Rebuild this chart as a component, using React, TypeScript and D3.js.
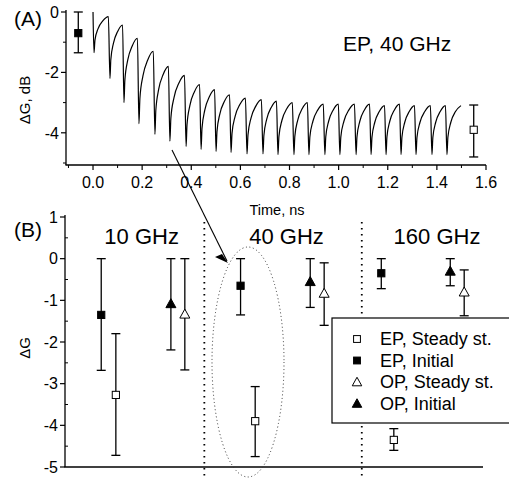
import React from "react";
import * as d3 from "d3";

// ---------- Panel A data ----------
const dipTimes = [0.004, 0.069, 0.126, 0.187, 0.252, 0.313, 0.379, 0.44, 0.501, 0.562, 0.627, 0.692, 0.753, 0.818, 0.879, 0.944, 1.005, 1.071, 1.132, 1.193, 1.254, 1.315, 1.38, 1.441];
const dipValues = [-1.35, -2.2, -3.0, -3.7, -4.05, -4.28, -4.45, -4.55, -4.62, -4.65, -4.7, -4.7, -4.72, -4.72, -4.72, -4.72, -4.72, -4.72, -4.72, -4.72, -4.72, -4.72, -4.72, -4.72];
const peakValues = [0, -0.15, -0.43, -0.87, -1.3, -1.8, -2.1, -2.4, -2.57, -2.74, -2.85, -2.9, -2.95, -3.0, -3.0, -3.05, -3.05, -3.05, -3.05, -3.1, -3.05, -3.1, -3.1, -3.1];
const traceStart = 0.0;
const traceEnd = 1.498;
const endValue = -3.1;
// recovery shape template: [fraction of period, fraction recovered]
const recoveryShape: [number, number][] = [[0, 0], [0.06, 0.35], [0.25, 0.66], [0.55, 0.88], [0.9, 1]];

const aMarkers = [
  { t: -0.06, v: -0.7, hi: 0, lo: -1.35, filled: true },
  { t: 1.55, v: -3.9, hi: -3.08, lo: -4.8, filled: false },
];
const aXTicks = [0, 0.2, 0.4, 0.6, 0.8, 1.0, 1.2, 1.4, 1.6];
const aXMinor = [-0.1, 0.1, 0.3, 0.5, 0.7, 0.9, 1.1, 1.3, 1.5];
const aYTicks = [0, -2, -4];
const aYMinor = [-1, -3, -5];

// ---------- Panel B data ----------
const groupLabels = ["10 GHz", "40 GHz", "160 GHz"];
const groupLabelX = [5.5, 15.9, 26.7];
const separatorsX = [10, 21.3];

const epSteadyX = [3.65, 13.65, 23.6];
const epSteadyV = [-3.27, -3.9, -4.35];
const epSteadyHi = [-1.8, -3.07, -4.08];
const epSteadyLo = [-4.72, -4.75, -4.6];

const epInitX = [2.6, 12.6, 22.7];
const epInitV = [-1.35, -0.65, -0.35];
const epInitHi = [0, 0, 0];
const epInitLo = [-2.68, -1.35, -0.72];

const opSteadyX = [8.6, 18.6, 28.65];
const opSteadyV = [-1.33, -0.83, -0.8];
const opSteadyHi = [0, -0.1, -0.27];
const opSteadyLo = [-2.67, -1.6, -1.37];

const opInitX = [7.6, 17.6, 27.65];
const opInitV = [-1.08, -0.55, -0.3];
const opInitHi = [0, 0, 0];
const opInitLo = [-2.19, -1.17, -0.65];

const bYTicks = [1, 0, -1, -2, -3, -4, -5];
const bYMinor = [0.5, -0.5, -1.5, -2.5, -3.5, -4.5];

const legendLabels = ["EP, Steady st.", "EP, Initial", "OP, Steady st.", "OP, Initial"];

const FONT = "Arial, 'Liberation Sans', Helvetica, sans-serif";

type Shape = "sq" | "tri";

function Marker({ x, y, shape, filled, s = 1 }: { x: number; y: number; shape: Shape; filled: boolean; s?: number }) {
  const fill = filled ? "#000" : "#fff";
  if (shape === "sq") {
    const h = 3.6 * s;
    return <rect x={x - h} y={y - h} width={2 * h} height={2 * h} fill={fill} stroke="#000" strokeWidth={1} />;
  }
  const w = 5 * s;
  const pts = `${x},${y - 5 * s} ${x - w},${y + 4 * s} ${x + w},${y + 4 * s}`;
  return <polygon points={pts} fill={fill} stroke="#000" strokeWidth={1} />;
}

function ErrBar({ x, y1, y2 }: { x: number; y1: number; y2: number }) {
  const c = 4.5;
  return (
    <g stroke="#000" strokeWidth={1.3}>
      <line x1={x} x2={x} y1={y1} y2={y2} />
      <line x1={x - c} x2={x + c} y1={y1} y2={y1} />
      <line x1={x - c} x2={x + c} y1={y2} y2={y2} />
    </g>
  );
}

export default function App() {
  // Panel A scales
  const xA = d3.scaleLinear().domain([-0.11, 1.6]).range([66, 486]);
  const yA = d3.scaleLinear().domain([-5, 0]).range([163, 12]);
  const aAxisY = 165;

  // trace points
  const pts: [number, number][] = [];
  pts.push([traceStart, peakValues[0]]);
  for (let k = 0; k < dipTimes.length; k++) {
    const t0 = dipTimes[k];
    const t1 = k + 1 < dipTimes.length ? dipTimes[k + 1] : traceEnd;
    const lo = dipValues[k];
    const hi = k + 1 < peakValues.length ? peakValues[k + 1] : endValue;
    const last = k + 1 >= dipTimes.length;
    for (const [f, r] of recoveryShape) {
      const ff = last ? Math.min(f / 0.9, 1) : f;
      pts.push([t0 + ff * (t1 - t0), lo + r * (hi - lo)]);
    }
  }
  const line = d3
    .line<[number, number]>()
    .x((d) => xA(d[0]))
    .y((d) => yA(d[1]))
    .curve(d3.curveMonotoneX);

  // Panel B scales
  const xB = d3.scaleLinear().domain([0, 30]).range([65, 483]);
  const yB = d3.scaleLinear().domain([-5, 1]).range([467, 217]);

  const series = [
    { X: epSteadyX, V: epSteadyV, H: epSteadyHi, L: epSteadyLo, shape: "sq" as Shape, filled: false },
    { X: epInitX, V: epInitV, H: epInitHi, L: epInitLo, shape: "sq" as Shape, filled: true },
    { X: opSteadyX, V: opSteadyV, H: opSteadyHi, L: opSteadyLo, shape: "tri" as Shape, filled: false },
    { X: opInitX, V: opInitV, H: opInitHi, L: opInitLo, shape: "tri" as Shape, filled: true },
  ];

  return (
    <svg
      width={509}
      height={478}
      style={{ position: "absolute", left: 0, top: 0, background: "#fff" }}
      fontFamily={FONT}
    >
      <rect width={509} height={478} fill="#fff" />
      {/* ---------- Panel A ---------- */}
      <g>
        <line x1={66} x2={66} y1={10} y2={aAxisY} stroke="#000" strokeWidth={1.3} />
        <line x1={65.4} x2={xA(1.6)} y1={aAxisY} y2={aAxisY} stroke="#000" strokeWidth={1.3} />
        {aYTicks.map((v) => (
          <g key={"ay" + v}>
            <line x1={61} x2={66} y1={yA(v)} y2={yA(v)} stroke="#000" strokeWidth={1.2} />
            <text x={59} y={yA(v)} dy="0.36em" textAnchor="end" fontSize={16}>
              {v === 0 ? "0" : `-${Math.abs(v)}`}
            </text>
          </g>
        ))}
        {aYMinor.map((v) => (
          <line key={"aym" + v} x1={63} x2={66} y1={yA(v)} y2={yA(v)} stroke="#000" strokeWidth={1} />
        ))}
        {aXTicks.map((t) => (
          <g key={"ax" + t}>
            <line x1={xA(t)} x2={xA(t)} y1={aAxisY} y2={aAxisY + 5} stroke="#000" strokeWidth={1.2} />
            <text x={xA(t)} y={aAxisY + 23} textAnchor="middle" fontSize={16}>
              {t.toFixed(1)}
            </text>
          </g>
        ))}
        {aXMinor.map((t) => (
          <line key={"axm" + t} x1={xA(t)} x2={xA(t)} y1={aAxisY} y2={aAxisY + 3} stroke="#000" strokeWidth={1} />
        ))}
        <text x={277} y={215} textAnchor="middle" fontSize={14.5}>
          Time, ns
        </text>
        <text transform="translate(30,100) rotate(-90)" textAnchor="middle" fontSize={15}>
          ΔG, dB
        </text>
        <text x={14} y={26} fontSize={21}>
          (A)
        </text>
        <text x={343} y={51} fontSize={21}>
          EP, 40 GHz
        </text>
        <path d={line(pts) || ""} fill="none" stroke="#000" strokeWidth={1.2} strokeLinejoin="round" />
        {aMarkers.map((m, i) => (
          <g key={"am" + i}>
            <ErrBar x={xA(m.t)} y1={yA(m.hi)} y2={yA(m.lo)} />
            <Marker x={xA(m.t)} y={yA(m.v)} shape="sq" filled={m.filled} />
          </g>
        ))}
      </g>

      {/* ---------- Panel B ---------- */}
      <g>
        <line x1={65} x2={65} y1={215} y2={467} stroke="#000" strokeWidth={1.3} />
        <line x1={64.4} x2={483} y1={467} y2={467} stroke="#000" strokeWidth={1.3} />
        {bYTicks.map((v) => (
          <g key={"by" + v}>
            <line x1={60} x2={65} y1={yB(v)} y2={yB(v)} stroke="#000" strokeWidth={1.2} />
            <text x={58} y={yB(v)} dy="0.36em" textAnchor="end" fontSize={16}>
              {v < 0 ? `-${Math.abs(v)}` : String(v)}
            </text>
          </g>
        ))}
        {bYMinor.map((v) => (
          <line key={"bym" + v} x1={65} x2={68} y1={yB(v)} y2={yB(v)} stroke="#000" strokeWidth={1} />
        ))}
        <text transform="translate(30,348) rotate(-90)" textAnchor="middle" fontSize={15}>
          ΔG
        </text>
        <text x={14} y={237} fontSize={21}>
          (B)
        </text>
        {groupLabels.map((g, i) => (
          <text key={g} x={xB(groupLabelX[i])} y={244} textAnchor="middle" fontSize={22}>
            {g}
          </text>
        ))}
        {separatorsX.map((s) => (
          <line
            key={"sep" + s}
            x1={xB(s)}
            x2={xB(s)}
            y1={222}
            y2={478}
            stroke="#000"
            strokeWidth={1.8}
            strokeDasharray="1.6,4.4"
          />
        ))}
        <ellipse cx={248} cy={362} rx={36} ry={115} fill="none" stroke="#333" strokeWidth={1} strokeDasharray="1,2.6" />
        <line x1={172} y1={150} x2={227} y2={261} stroke="#000" strokeWidth={1.1} />
        <polygon points="228,263 215,257 222,254" fill="#000" />

        {series.map((s, si) =>
          s.X.map((xv, i) => (
            <g key={"s" + si + "-" + i}>
              <ErrBar x={xB(xv)} y1={yB(s.H[i])} y2={yB(s.L[i])} />
              <Marker x={xB(xv)} y={yB(s.V[i])} shape={s.shape} filled={s.filled} />
            </g>
          ))
        )}

        <rect x={332} y={318} width={190} height={105} fill="#fff" stroke="#000" strokeWidth={1.2} />
        {legendLabels.map((l, i) => (
          <g key={l}>
            <Marker x={357} y={339 + i * 21.5} shape={series[i].shape} filled={series[i].filled} s={0.95} />
            <text x={380} y={339 + i * 21.5} dy="0.36em" fontSize={18}>
              {l}
            </text>
          </g>
        ))}
      </g>
    </svg>
  );
}
